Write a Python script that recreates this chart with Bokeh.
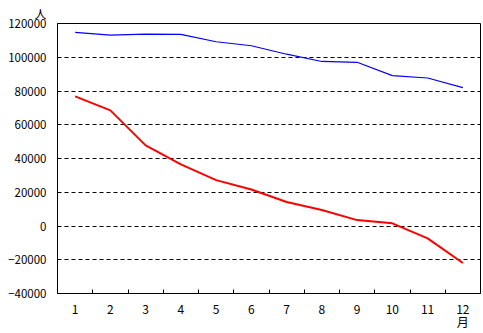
from bokeh.plotting import figure
from bokeh.models import Range1d, FixedTicker, LinearAxis
from bokeh.embed import file_html
from bokeh.resources import INLINE

months = [1, 2, 3, 4, 5, 6, 7, 8, 9, 10, 11, 12]
blue_values = [114700, 113100, 113700, 113600, 109200, 106800, 101800, 97500, 97000, 89100, 87700, 82000]
red_values = [76800, 68500, 47800, 36500, 27200, 21600, 14200, 9500, 3500, 1600, -7300, -21900]
y_ticks = [-40000, -20000, 0, 20000, 40000, 60000, 80000, 100000, 120000]
x_boundaries = [1.5, 2.5, 3.5, 4.5, 5.5, 6.5, 7.5, 8.5, 9.5, 10.5, 11.5]
y_unit = "人"
x_unit = "月"

FONT = "Noto Sans CJK JP"

p = figure(width=483, height=333, output_backend="svg", toolbar_location=None,
           x_range=Range1d(0.5, 12.5), y_range=Range1d(-40000, 120000),
           min_border_left=57, min_border_top=2, min_border_right=3, min_border_bottom=40,
           title=y_unit)
p.background_fill_color = "white"
p.border_fill_color = "white"
p.outline_line_color = "black"
p.outline_line_width = 1

p.title.align = "left"
p.title.offset = -23
p.title.text_font = FONT
p.title.text_font_size = "12px"
p.title.text_font_style = "normal"
p.title.text_color = "black"
p.title.standoff = 4

p.xaxis.ticker = FixedTicker(ticks=months, minor_ticks=x_boundaries)
p.xaxis.major_tick_line_color = None
p.xaxis.major_tick_in = 0
p.xaxis.major_tick_out = 0
p.xaxis.minor_tick_in = 4
p.xaxis.minor_tick_out = 0
p.xaxis.minor_tick_line_color = "black"
p.xaxis.axis_line_color = "black"
p.xaxis.major_label_standoff = 11
p.xaxis.major_label_text_font = FONT
p.xaxis.major_label_text_font_size = "12px"
p.xaxis.major_label_text_color = "black"

# unit label under the last month
unit_axis = LinearAxis(ticker=FixedTicker(ticks=[12]), major_label_overrides={12: x_unit})
unit_axis.axis_line_color = None
unit_axis.major_tick_line_color = None
unit_axis.minor_tick_line_color = None
unit_axis.major_tick_in = 0
unit_axis.major_tick_out = 0
unit_axis.minor_tick_in = 0
unit_axis.minor_tick_out = 0
unit_axis.major_label_standoff = -4
unit_axis.major_label_text_font = FONT
unit_axis.major_label_text_font_size = "12px"
unit_axis.major_label_text_color = "black"
p.add_layout(unit_axis, "below")

p.yaxis.ticker = FixedTicker(ticks=y_ticks)
p.yaxis.major_tick_line_color = None
p.yaxis.minor_tick_line_color = None
p.yaxis.major_tick_in = 0
p.yaxis.major_tick_out = 0
p.yaxis.axis_line_color = "black"
p.yaxis.major_label_standoff = 11
p.yaxis.major_label_text_font = FONT
p.yaxis.major_label_text_font_size = "11.5px"
p.yaxis.major_label_text_color = "black"
p.yaxis.formatter.use_scientific = False

p.xgrid.grid_line_color = None
p.ygrid.ticker = FixedTicker(ticks=y_ticks)
p.ygrid.grid_line_color = "black"
p.ygrid.grid_line_dash = "4 3"
p.ygrid.grid_line_width = 1

p.line(months, blue_values, line_color="#0000FF", line_width=1.2)
p.line(months, red_values, line_color="#FF0000", line_width=2)

open("out.html", "w").write(file_html(p, INLINE))
